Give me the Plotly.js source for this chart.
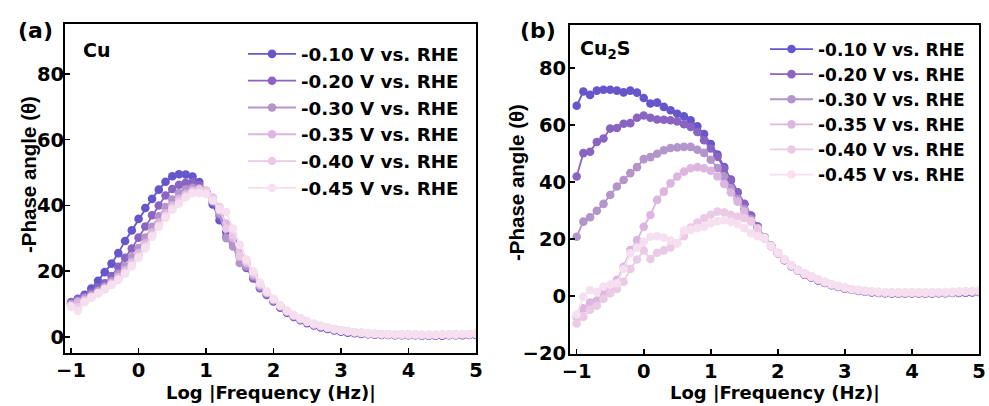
<!DOCTYPE html>
<html>
<head>
<meta charset="utf-8">
<script src="https://cdn.plot.ly/plotly-3.0.1.min.js"></script>
<style>html,body{margin:0;padding:0;background:#fff}#chart{width:989px;height:406px}</style>
</head>
<body>
<div id="chart"></div>
<script>
// log10 frequency (Hz)
const logF = [-1,-0.9,-0.8,-0.7,-0.6,-0.5,-0.4,-0.3,-0.2,-0.1,
  0,0.1,0.2,0.3,0.4,0.5,0.6,0.7,0.8,0.9,
  1,1.1,1.2,1.3,1.4,1.5,1.6,1.7,1.8,1.9,
  2,2.1,2.2,2.3,2.4,2.5,2.6,2.7,2.8,2.9,
  3,3.1,3.2,3.3,3.4,3.5,3.6,3.7,3.8,3.9,
  4,4.1,4.2,4.3,4.4,4.5,4.6,4.7,4.8,4.9,5];

const seriesNames = ["-0.10 V vs. RHE","-0.20 V vs. RHE","-0.30 V vs. RHE","-0.35 V vs. RHE","-0.40 V vs. RHE","-0.45 V vs. RHE"];
const seriesColors = ["#6656cc","#8a64c3","#b394cb","#dcb6e0","#ebcae6","#f6e0ef"];
const xTicks = [-1,0,1,2,3,4,5];
const yTicksA = [0,20,40,60,80];
const yTicksB = [-20,0,20,40,60,80];

// (a) Cu
const cu_010 = [10.3,11.6,12.8,14.7,17.1,19.7,22.3,25.5,29.2,32.4,
  35.9,39.2,42.0,44.8,47.2,48.9,49.5,49.4,48.8,47.1,
  44.3,40.3,35.5,32.0,29.0,25.0,21.0,17.8,14.8,12.8,
  10.8,8.9,7.4,6.1,5.1,4.2,3.5,2.9,2.4,2.0,
  1.6,1.3,1.1,0.9,0.8,0.7,0.6,0.6,0.5,0.5,
  0.5,0.5,0.4,0.4,0.4,0.4,0.5,0.5,0.5,0.6,0.6];
const cu_020 = [10.6,11.4,12.3,13.5,15.0,16.3,18.5,21.3,24.1,26.9,
  30.2,33.6,37.0,40.0,43.0,45.0,46.3,46.9,47.0,46.2,
  44.2,41.0,36.8,30.5,28.6,24.3,21.2,18.0,15.0,13.0,
  11.0,9.1,7.6,6.3,5.3,4.4,3.7,3.1,2.6,2.2,
  1.8,1.5,1.3,1.1,0.9,0.8,0.7,0.7,0.6,0.6,
  0.6,0.6,0.5,0.5,0.5,0.5,0.6,0.6,0.6,0.7,0.7];
const cu_030 = [10.0,10.9,11.8,12.8,14.0,15.3,17.0,19.2,21.5,24.2,
  27.0,30.2,33.5,36.7,39.5,41.8,43.7,44.9,45.4,45.2,
  44.0,41.2,37.5,30.0,27.5,22.5,21.5,18.5,15.3,13.2,
  11.2,9.2,7.7,6.4,5.4,4.5,3.8,3.2,2.7,2.3,
  1.9,1.6,1.4,1.2,1.0,0.9,0.8,0.8,0.7,0.7,
  0.7,0.6,0.6,0.6,0.6,0.6,0.7,0.7,0.7,0.8,0.8];
const cu_035 = [9.6,10.5,11.2,12.3,13.5,14.8,16.3,18.2,20.3,22.8,
  25.5,28.5,31.8,34.8,37.6,40.0,42.0,43.5,44.5,45.0,
  44.6,42.0,38.5,34.5,30.0,26.0,22.5,19.0,15.8,13.5,
  11.4,9.4,7.8,6.5,5.5,4.6,3.9,3.3,2.8,2.3,
  2.0,1.7,1.4,1.2,1.0,0.9,0.8,0.8,0.7,0.7,
  0.7,0.7,0.6,0.6,0.6,0.7,0.7,0.7,0.8,0.8,0.9];
const cu_040 = [9.3,9.0,10.8,12.0,13.2,14.5,15.9,17.6,19.6,22.0,
  24.6,27.6,30.8,33.8,36.8,39.2,41.2,42.8,44.0,44.6,
  44.6,42.5,39.5,33.0,31.0,24.5,23.0,19.5,16.0,13.6,
  11.5,9.5,7.9,6.6,5.5,4.6,3.9,3.3,2.8,2.4,
  2.0,1.7,1.4,1.2,1.0,0.9,0.8,0.8,0.7,0.7,
  0.7,0.7,0.6,0.6,0.6,0.7,0.7,0.7,0.8,0.8,0.9];
const cu_045 = [9.2,8.0,10.5,12.0,13.3,14.5,15.8,17.3,19.2,21.5,
  24.0,27.0,30.5,33.5,36.3,38.7,40.5,42.5,43.7,43.8,
  43.5,41.5,38.8,38.0,33.0,28.0,23.5,20.0,16.5,13.8,
  11.6,9.6,8.0,6.7,5.6,4.7,4.0,3.4,2.9,2.4,
  2.0,1.7,1.5,1.3,1.1,1.0,0.9,0.8,0.8,0.8,
  0.8,0.8,0.7,0.7,0.7,0.8,0.8,0.8,0.9,0.9,1.0];

// (b) Cu2S
const cus_010 = [66.7,71.7,70.5,72.0,72.3,72.3,72.0,71.4,72.0,71.3,
  69.4,67.5,67.8,66.3,65.1,63.9,63.0,61.6,59.5,56.8,
  53.3,49.6,45.2,40.8,36.4,32.3,28.2,24.4,20.6,17.6,
  15.0,12.6,10.5,8.9,7.5,6.5,5.5,4.6,3.8,3.2,
  2.6,2.2,1.8,1.5,1.3,1.1,1.0,0.9,0.9,0.9,
  0.9,0.9,0.9,0.9,1.0,1.0,1.1,1.1,1.2,1.3,1.4];
const cus_020 = [41.9,50.1,50.6,54.0,55.2,58.7,58.9,60.4,60.6,62.5,
  63.3,62.5,61.9,61.8,61.6,61.2,60.2,59.3,57.5,54.6,
  51.7,48.8,44.6,40.5,36.3,32.2,28.1,24.3,20.6,17.7,
  15.1,12.7,10.6,9.0,7.6,6.6,5.6,4.7,3.9,3.3,
  2.7,2.3,1.9,1.6,1.4,1.2,1.1,1.0,1.0,1.0,
  1.0,1.0,1.0,1.0,1.1,1.1,1.2,1.2,1.3,1.4,1.5];
const cus_030 = [20.8,26.1,27.6,29.9,32.3,35.4,38.4,40.7,43.1,45.2,
  48.0,48.7,49.9,51.1,51.9,52.1,52.3,52.3,51.3,50.2,
  47.8,44.9,41.9,37.8,34.0,30.5,27.0,23.8,20.4,17.6,
  15.0,12.7,10.6,9.0,7.6,6.6,5.6,4.7,3.9,3.3,
  2.7,2.3,1.9,1.6,1.4,1.2,1.1,1.1,1.0,1.0,
  1.0,1.0,1.0,1.1,1.1,1.2,1.2,1.3,1.4,1.5,1.6];
const cus_035 = [-7.3,-4.3,-2.3,-1.6,0.9,3.3,5.6,10.3,16.1,19.6,
  24.3,28.4,33.7,36.6,39.5,41.9,43.6,44.8,45.2,44.8,
  43.9,41.9,39.3,36.3,33.1,29.6,26.3,23.2,20.2,17.5,
  15.0,12.7,10.6,9.0,7.7,6.7,5.7,4.8,4.0,3.4,
  2.8,2.3,2.0,1.7,1.5,1.3,1.2,1.1,1.1,1.1,
  1.1,1.1,1.1,1.1,1.2,1.2,1.3,1.4,1.5,1.6,1.7];
const cus_040 = [-9.6,-7.3,-4.8,-3.4,-1.0,1.0,2.5,5.0,9.5,12.8,
  16.0,13.0,15.2,16.0,17.0,18.5,21.0,24.0,25.8,27.3,
  28.5,29.6,29.4,28.5,27.8,27.3,26.1,23.7,20.5,17.5,
  15.1,12.8,10.7,9.1,7.8,6.8,5.8,4.9,4.1,3.5,
  2.9,2.4,2.1,1.8,1.6,1.4,1.3,1.2,1.2,1.2,
  1.2,1.2,1.2,1.2,1.3,1.3,1.4,1.5,1.6,1.7,1.8];
const cus_045 = [-6.5,-0.2,2.1,1.5,3.3,4.0,4.5,9.5,15.0,17.0,
  19.0,20.8,21.0,20.5,19.5,18.5,23.0,23.2,23.8,24.3,
  25.5,26.2,26.6,26.0,25.2,23.8,22.0,21.0,20.3,17.6,
  15.2,12.9,10.8,9.2,7.9,6.9,5.9,5.0,4.2,3.6,
  3.0,2.5,2.2,1.9,1.7,1.5,1.4,1.3,1.3,1.3,
  1.3,1.3,1.3,1.3,1.4,1.4,1.5,1.6,1.7,1.8,1.9];

const cuSets = [cu_010,cu_020,cu_030,cu_035,cu_040,cu_045];
const cusSets = [cus_010,cus_020,cus_030,cus_035,cus_040,cus_045];

const WIDE = "DejaVu Sans, Verdana, sans-serif";
const ARIAL = "Liberation Sans, Arial, Helvetica, sans-serif";
const traces = [];
cuSets.forEach((ys,i)=>{
  traces.push({x:logF, y:ys, type:'scatter', mode:'lines+markers', name:seriesNames[i],
    xaxis:'x', yaxis:'y', legend:'legend',
    line:{color:seriesColors[i], width:1.8}, marker:{color:seriesColors[i], size:8.6}});
});
cusSets.forEach((ys,i)=>{
  traces.push({x:logF, y:ys, type:'scatter', mode:'lines+markers', name:seriesNames[i],
    xaxis:'x2', yaxis:'y2', legend:'legend2',
    line:{color:seriesColors[i], width:1.8}, marker:{color:seriesColors[i], size:8.6}});
});

const tickFont = {family:WIDE, size:19.5, color:'#000', weight:'bold'};
const axBase = {showline:true, linewidth:2, linecolor:'#000', mirror:true, showgrid:false, zeroline:false,
  ticks:'inside', ticklen:5, tickwidth:1.6, tickcolor:'#000', tickfont:tickFont};

function ann(text, px, py, size, fam, extra){
  return Object.assign({text:text, x:px/989, y:1-py/406, xref:'paper', yref:'paper', showarrow:false,
    xanchor:'center', yanchor:'middle', font:{family:fam, size:size, color:'#000', weight:'bold'}}, extra||{});
}

const layout = {
  width:989, height:406, paper_bgcolor:'#fff', plot_bgcolor:'#fff',
  margin:{l:0,r:0,t:0,b:0},
  showlegend:true,
  xaxis:Object.assign({}, axBase, {domain:[0.0657,0.4813], range:[-1.09,5.0], tickvals:xTicks, anchor:'y', ticklabelstandoff:-1}),
  yaxis:Object.assign({}, axBase, {domain:[0.1305,0.9409], range:[-4.9,95.2], tickvals:yTicksA, anchor:'x', ticklabelstandoff:-5}),
  xaxis2:Object.assign({}, axBase, {domain:[0.5763,0.9899], range:[-1.1,5.0], tickvals:xTicks, anchor:'y2', ticklabelstandoff:-1}),
  yaxis2:Object.assign({}, axBase, {domain:[0.1281,0.9384], range:[-20.3,95], tickvals:yTicksB, anchor:'x2', ticklabelstandoff:-2}),
  legend:{x:243/989, y:1-35.5/406, xanchor:'left', yanchor:'top', bgcolor:'rgba(0,0,0,0)', tracegroupgap:0, itemwidth:48,
    font:{family:WIDE, size:18.3, color:'#000', weight:'bold'}},
  legend2:{x:765/989, y:1-31.5/406, xanchor:'left', yanchor:'top', bgcolor:'rgba(0,0,0,0)', tracegroupgap:0, itemwidth:43,
    font:{family:WIDE, size:17, color:'#000', weight:'bold'}},
  annotations:[
    ann('(a)', 35.5, 31, 22, WIDE),
    ann('(b)', 537.5, 31, 22, WIDE),
    ann('Cu', 96, 50, 19, WIDE),
    ann('Cu<sub>2</sub>S', 605, 50, 19, WIDE),
    ann('Log |Frequency (Hz)|', 270.5, 392, 18, WIDE),
    ann('Log |Frequency (Hz)|', 774.5, 392, 18, WIDE),
    ann('-Phase angle (θ)', 28, 175, 20.5, ARIAL, {textangle:-90}),
    ann('-Phase angle (θ)', 516, 183, 20.5, ARIAL, {textangle:-90})
  ]
};

Plotly.newPlot('chart', traces, layout, {staticPlot:true, displayModeBar:false});
</script>
</body>
</html>
